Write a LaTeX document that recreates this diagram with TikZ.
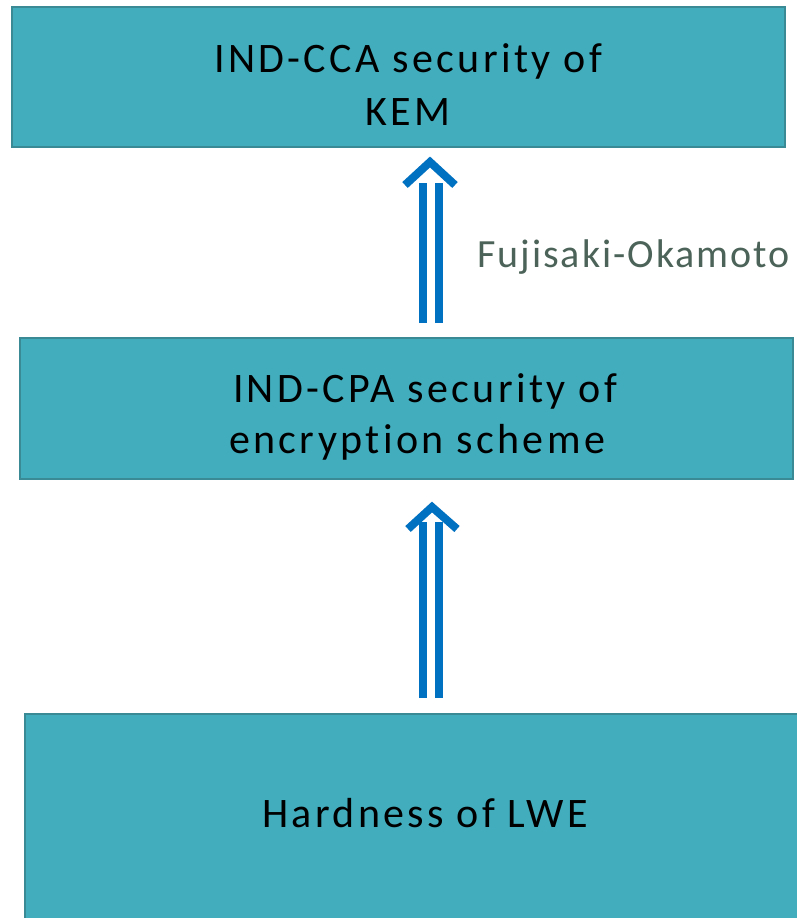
\documentclass[tikz,border=0pt]{standalone}
\usepackage{fontspec}
\setmainfont[Ligatures=CommonOff]{Carlito}
\newfontfamily\boxfont[Ligatures=CommonOff,LetterSpace=8]{Carlito}
\newfontfamily\lblfont[Ligatures=CommonOff,LetterSpace=5]{Carlito}
\definecolor{boxfill}{RGB}{65,173,189}
\definecolor{boxline}{RGB}{58,138,150}
\definecolor{arrblue}{RGB}{0,112,192}
\definecolor{lblcol}{RGB}{75,99,88}
\begin{document}
\begin{tikzpicture}[x=1pt,y=-1pt,
  box/.style={draw=boxline, line width=2pt, fill=boxfill, rectangle, inner sep=0pt},
  boxtext/.style={font=\boxfont\fontsize{42}{53}\selectfont, align=center, text=black, inner sep=0pt},
  bar/.style={draw=arrblue, line width=8pt},
  chev/.style={draw=arrblue, line width=8pt, line join=miter}
]
\useasboundingbox (0,0) rectangle (797,918);
\clip (0,0) rectangle (797,918);
% boxes
\node[box, minimum width=773pt, minimum height=140pt] (b1) at (398.5,77) {};
\node[box, minimum width=773pt, minimum height=141pt] (b2) at (406.5,408.5) {};
\node[box, minimum width=790pt, minimum height=220pt] (b3) at (420,824) {};
% texts
\node[boxtext, anchor=base] (t1a) at (408,72) {IND-CCA security of};
\node[boxtext, anchor=base] (t1b) at (408,125) {KEM};
\node[boxtext, anchor=base] (t2a) at (425,402) {IND-CPA security of};
\node[boxtext, anchor=base] (t2b) at (417,453) {encryption scheme};
\node[boxtext, anchor=base] (t3) at (425,827) {Hardness of LWE};
\node[font=\lblfont\fontsize{40}{48}\selectfont, text=lblcol, anchor=base west, inner sep=0pt] (fo) at (477,267) {Fujisaki-Okamoto};
% arrow 1
\coordinate (a1l0) at (423,323); \coordinate (a1l1) at (423,183);
\coordinate (a1r0) at (439,323); \coordinate (a1r1) at (439,183);
\coordinate (a1p) at (430,162); \coordinate (a1a) at (405,185); \coordinate (a1b) at (455,185);
\draw[bar] (a1l0) -- (a1l1);
\draw[bar] (a1r0) -- (a1r1);
\draw[chev] (a1a) -- (a1p) -- (a1b);
% arrow 2
\coordinate (a2l0) at (423,698); \coordinate (a2l1) at (423,522);
\coordinate (a2r0) at (439,698); \coordinate (a2r1) at (439,522);
\coordinate (a2p) at (432,507); \coordinate (a2a) at (408,529); \coordinate (a2b) at (457,529);
\draw[bar] (a2l0) -- (a2l1);
\draw[bar] (a2r0) -- (a2r1);
\draw[chev] (a2a) -- (a2p) -- (a2b);
\end{tikzpicture}
\end{document}
